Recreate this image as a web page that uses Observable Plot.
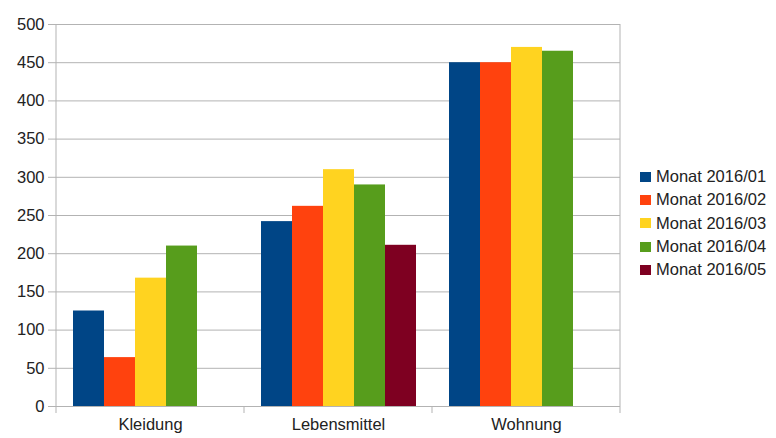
<!DOCTYPE html>
<html><head><meta charset="utf-8">
<script src="https://cdn.jsdelivr.net/npm/d3@7"></script>
<script src="https://cdn.jsdelivr.net/npm/@observablehq/plot@0.6"></script>
<style>
body{margin:0;background:#fff;font-family:"Liberation Sans",Arial,sans-serif;}
#wrap{position:relative;width:776px;height:438px;overflow:hidden;}
#legend{position:absolute;left:640px;top:165px;font-size:16.5px;color:#222;}
#legend .row{display:flex;align-items:center;height:23.3px;white-space:nowrap;}
#legend .sw{width:11px;height:10px;margin-right:5px;flex:none;}
</style></head><body><div id="wrap"><div id="legend"></div></div>
<script>
const categories = ["Kleidung", "Lebensmittel", "Wohnung"];
const series = ["Monat 2016/01", "Monat 2016/02", "Monat 2016/03", "Monat 2016/04", "Monat 2016/05"];
const colors = ["#004586", "#ff420e", "#ffd320", "#579d1c", "#7e0021"];
const kleidung = [125, 64, 168, 210, null];
const lebensmittel = [242, 262, 310, 290, 211];
const wohnung = [450, 450, 470, 465, null];
const yTicks = [0, 50, 100, 150, 200, 250, 300, 350, 400, 450, 500];

const valuesByCategory = [kleidung, lebensmittel, wohnung];
const rows = [];
categories.forEach((c, i) => {
  series.forEach((s, j) => {
    const v = valuesByCategory[i][j];
    if (v != null) rows.push({category: c, series: s, value: v});
  });
});

const grid = "#b3b3b3";
const chart = Plot.plot({
  width: 776,
  height: 438,
  marginLeft: 55,
  marginRight: 155,
  marginTop: 24,
  marginBottom: 32,
  style: {fontFamily: "'Liberation Sans', Arial, sans-serif", fontSize: "16.5px", color: "#222", background: "#fff"},
  fx: {domain: categories, padding: 0, label: null},
  x: {domain: series, paddingInner: 0, paddingOuter: 0.5, axis: null},
  y: {domain: [0, 500], label: null},
  color: {domain: series, range: colors},
  marks: [
    Plot.gridY(yTicks, {stroke: grid, strokeOpacity: 1, strokeWidth: 1}),
    Plot.barY(rows, {fx: "category", x: "series", y: "value", fill: "series"}),
    Plot.axisY(yTicks, {tickSize: 8, tickPadding: 4, stroke: grid, fill: "#222", label: null}),
    Plot.axisFx({anchor: "bottom", tickSize: 0, tickPadding: 12, label: null, fill: "#222"})
  ]
});

// Frame lines and category boundary ticks drawn from the plot's own scales
const fx = chart.scale("fx");
const y = chart.scale("y");
const y0 = y.apply(0), yTop = y.apply(500);
const bounds = categories.map(c => fx.apply(c));
bounds.push(fx.apply(categories[categories.length - 1]) + fx.bandwidth);
const g = d3.select(chart).append("g").attr("stroke", grid).attr("stroke-width", 1);
bounds.forEach((bx, i) => {
  const edge = i === 0 || i === bounds.length - 1;
  g.append("line")
    .attr("x1", bx).attr("x2", bx)
    .attr("y1", edge ? yTop : y0).attr("y2", y0 + 7);
});

document.getElementById("wrap").prepend(chart);

const legend = document.getElementById("legend");
series.forEach((s, i) => {
  const row = document.createElement("div");
  row.className = "row";
  const sw = document.createElement("span");
  sw.className = "sw";
  sw.style.background = colors[i];
  const t = document.createElement("span");
  t.textContent = s;
  row.append(sw, t);
  legend.append(row);
});
</script>
</body></html>
